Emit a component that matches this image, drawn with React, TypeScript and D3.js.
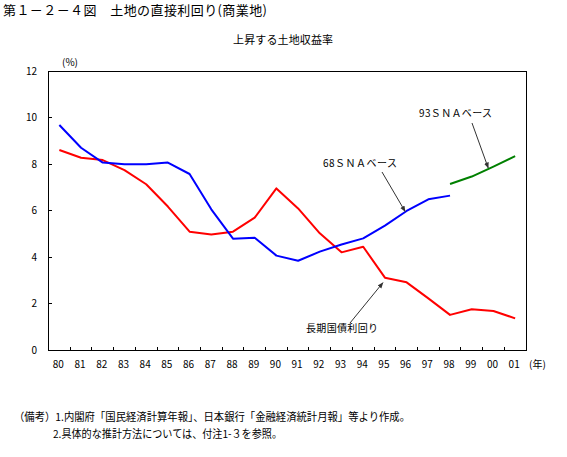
import React from "react";
import * as d3 from "d3";

const years = ["80","81","82","83","84","85","86","87","88","89","90","91","92","93","94","95","96","97","98","99","00","01"];
const sna68Years = years.slice(0, 19);
const sna68 = [9.68, 8.7, 8.06, 7.99, 7.99, 8.06, 7.57, 6.05, 4.79, 4.83, 4.06, 3.84, 4.23, 4.54, 4.8, 5.35, 5.98, 6.48, 6.64];
const sna93Years = ["98","99","00","01"];
const sna93 = [7.14, 7.46, 7.89, 8.34];
const bond = [8.6, 8.27, 8.17, 7.74, 7.13, 6.17, 5.09, 4.97, 5.09, 5.69, 6.95, 6.09, 5.02, 4.2, 4.44, 3.11, 2.91, 2.22, 1.51, 1.75, 1.68, 1.36];
const yTicks = [0, 2, 4, 6, 8, 10, 12];

const title = "第１－２－４図　土地の直接利回り(商業地)";
const subtitle = "上昇する土地収益率";
const notes = ["（備考）1.内閣府「国民経済計算年報」、日本銀行「金融経済統計月報」等より作成。", "2.具体的な推計方法については、付注1-３を参照。"];

const FONT = "'Noto Sans CJK JP', 'Noto Sans', sans-serif";

export default function App() {
  const W = 567, H = 457;
  const L = 48.5, R = 526, T = 71, B = 350;
  const x = d3.scaleBand<string>().domain(years).range([L, R]).padding(0);
  const y = d3.scaleLinear().domain([0, 12]).range([B, T]);
  const cx = (yr: string) => (x(yr) as number) + x.bandwidth() / 2;

  const line = d3.line<[string, number]>().x(d => cx(d[0])).y(d => y(d[1]));
  const blueD = line(sna68Years.map((yr, i) => [yr, sna68[i]] as [string, number])) || "";
  const greenD = line(sna93Years.map((yr, i) => [yr, sna93[i]] as [string, number])) || "";
  const redD = line(years.map((yr, i) => [yr, bond[i]] as [string, number])) || "";

  const bw = x.bandwidth();
  const ann = [
    { text: "93ＳＮＡベース", tx: 419, ty: 117, tl: 73, x1: 472, y1: 123, x2: cx("99") + bw * 0.76, y2: y(7.46 + (7.89 - 7.46) * 0.76) - 1 },
    { text: "68ＳＮＡベース", tx: 323, ty: 167, tl: 74, x1: 382, y1: 172, x2: cx("96") - 1.5, y2: y(5.98) + 0.5 },
    { text: "長期国債利回り", tx: 306, ty: 332, tl: 72, x1: 350, y1: 323, x2: cx("95") - 2, y2: y(3.11) + 5 },
  ];

  return (
    <svg width={W} height={H} style={{ position: "fixed", left: 0, top: 0, background: "#fff" }} fontFamily={FONT}>
      <defs>
        <marker id="ah" viewBox="0 0 10 10" refX="9" refY="5" markerWidth="6" markerHeight="6" orient="auto" markerUnits="userSpaceOnUse">
          <path d="M0,1 L10,5 L0,9 Z" fill="#333" />
        </marker>
      </defs>
      <text x={3} y={15} fontSize={13} fill="#000" textLength={264} lengthAdjust="spacing">{title}</text>
      <text x={283} y={44} fontSize={11} textAnchor="middle" fill="#000" textLength={100} lengthAdjust="spacing">{subtitle}</text>
      <text x={62} y={66} fontSize={10} fill="#000">(%)</text>

      <rect x={L} y={T} width={R - L} height={B - T} fill="none" stroke="#000" strokeWidth={1} shapeRendering="crispEdges" />
      {yTicks.map(t => (
        <g key={t}>
          <line x1={L} x2={L + 3} y1={y(t)} y2={y(t)} stroke="#000" shapeRendering="crispEdges" />
          <text x={37} y={y(t) + 3.5} fontSize={10} textAnchor="end" fill="#000">{t}</text>
        </g>
      ))}
      {years.map((yr, i) => (
        <g key={yr}>
          {i > 0 && <line x1={x(yr) as number} x2={x(yr) as number} y1={B} y2={B - 3} stroke="#000" shapeRendering="crispEdges" />}
          <text x={cx(yr) - 1} y={367.5} fontSize={10} textAnchor="middle" fill="#000">{yr}</text>
        </g>
      ))}
      <text x={529} y={367.5} fontSize={10} fill="#000">(年)</text>

      <path d={redD} fill="none" stroke="#ff0000" strokeWidth={2} strokeLinejoin="round" />
      <path d={blueD} fill="none" stroke="#0000ff" strokeWidth={2} strokeLinejoin="round" />
      <path d={greenD} fill="none" stroke="#008000" strokeWidth={2} strokeLinejoin="round" />

      {ann.map((a, i) => (
        <g key={i}>
          <text x={a.tx} y={a.ty} fontSize={10} fill="#000" textLength={a.tl} lengthAdjust="spacing">{a.text}</text>
          <line x1={a.x1} y1={a.y1} x2={a.x2} y2={a.y2} stroke="#333" strokeWidth={1} markerEnd="url(#ah)" />
        </g>
      ))}

      <text x={14} y={421} fontSize={11} fill="#000" textLength={396} lengthAdjust="spacingAndGlyphs">{notes[0]}</text>
      <text x={53} y={438} fontSize={11} fill="#000" textLength={229} lengthAdjust="spacingAndGlyphs">{notes[1]}</text>
    </svg>
  );
}
